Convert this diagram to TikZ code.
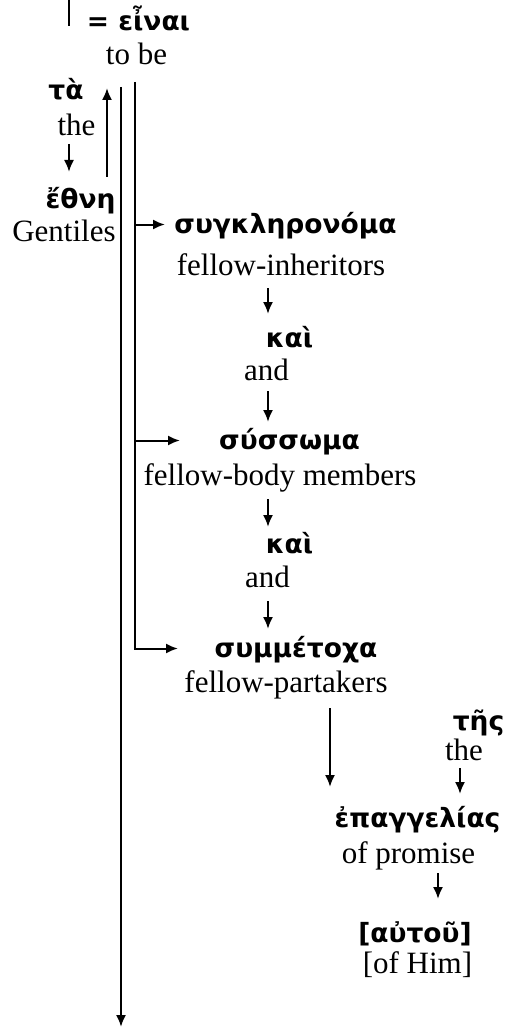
\documentclass[tikz,border=0pt]{standalone}
\usepackage{fontspec}
\setmainfont{Liberation Serif}
\newfontfamily\grkfam{DejaVu Sans}
\usetikzlibrary{arrows.meta}
\newcommand{\grk}{\fontsize{26.5}{31}\selectfont\grkfam\bfseries}
\newcommand{\eng}{\fontsize{31}{36}\selectfont\rmfamily}
\tikzset{>={Latex[length=12pt,width=10pt]},x=1pt,y=-1pt,
    every node/.style={inner sep=0pt,anchor=base},
    grk/.style={font=\grk,text height=24pt,text depth=7pt},
    eng/.style={font=\eng,text height=22pt,text depth=8pt}}

\begin{document}
\begin{tikzpicture}[line width=2pt]
    \useasboundingbox (0,0) rectangle (507,1027);
    \node[grk] (einai) at (138.5,31) {= εἶναι};
    \node[eng] (tobe) at (136.5,65) {to be};
    \node[grk] (ta) at (66,100) {τὰ};
    \node[eng] (the1) at (76.5,136) {the};
    \node[grk] (ethne) at (80.5,208) {ἔθνη};
    \node[eng] (gentiles) at (64,241) {Gentiles};
    \node[grk] (sygk) at (285.5,233) {συγκληρονόμα};
    \node[eng] (inherit) at (281,275) {fellow-inheritors};
    \node[grk] (kai1) at (289.5,347) {καὶ};
    \node[eng] (and1) at (266.5,380) {and};
    \node[grk] (syss) at (289.5,449) {σύσσωμα};
    \node[eng] (body) at (280,485) {fellow-body members};
    \node[grk] (kai2) at (289.5,553) {καὶ};
    \node[eng] (and2) at (267.5,587) {and};
    \node[grk] (symm) at (296,657) {συμμέτοχα};
    \node[eng] (partake) at (286,692) {fellow-partakers};
    \node[grk] (tes) at (478.5,730) {τῆς};
    \node[eng] (the2) at (464,760) {the};
    \node[grk] (epang) at (417.5,827) {ἐπαγγελίας};
    \node[eng] (promise) at (408.5,863) {of promise};
    \node[grk] (autou) at (415,942) {[αὐτοῦ]};
    \node[eng] (ofhim) at (417.5,973) {[of Him]};
    \coordinate (above) at (69,0);
    \coordinate (aboveend) at (69,26);
    \coordinate (spineend) at (121,1027);

    \draw (above) -- (aboveend);
    \draw[->] ([xshift=-15.5pt,yshift=-13pt]tobe.south) -- (spineend);
    \draw[->] ([xshift=-1.5pt,yshift=-8pt]tobe.south) coordinate (fork) |- ([xshift=-118pt]symm.center);
    \draw[->] (fork |- sygk.center) -- ([xshift=-120.5pt]sygk.center);
    \draw[->] (fork |- syss.center) -- ([xshift=-109.5pt]syss.center);
    \draw[->] ([xshift=-7.5pt,yshift=1pt]the1.south) -- ([xshift=-11.5pt,yshift=11pt]ethne.north);
    \draw[->] ([xshift=26.5pt,yshift=6pt]ethne.north) -- ([xshift=-29.5pt,yshift=-14pt]tobe.south);
    \draw[->] ([xshift=-13pt,yshift=-4pt]inherit.south) -- ([xshift=-21.5pt,yshift=8pt]kai1.north);
    \draw[->] ([xshift=1.5pt,yshift=-2pt]and1.south) -- ([xshift=-21.5pt,yshift=2pt]syss.north);
    \draw[->] ([xshift=-12pt,yshift=-5pt]body.south) -- ([xshift=-21.5pt,yshift=1pt]kai2.north);
    \draw[->] ([xshift=0.5pt,yshift=-5pt]and2.south) -- ([xshift=-28pt,yshift=3pt]symm.north);
    \draw[->] ([xshift=44pt,yshift=-7pt]partake.south) -- ([xshift=-87.5pt,yshift=15pt]epang.north);
    \draw[->] ([xshift=-4pt,yshift=1pt]the2.south) -- ([xshift=42.5pt,yshift=8pt]epang.north);
    \draw[->] ([xshift=29.5pt,yshift=-1pt]promise.south) -- ([xshift=23pt,yshift=18pt]autou.north);
\end{tikzpicture}
\end{document}
